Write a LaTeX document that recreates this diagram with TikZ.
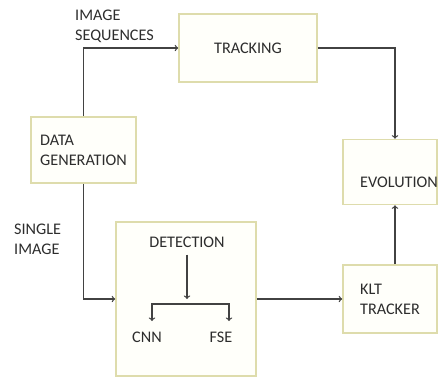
\documentclass[tikz,border=0pt]{standalone}
\usepackage{fontspec}
\setmainfont{Carlito}
\usetikzlibrary{positioning,calc,arrows}

\definecolor{boxline}{RGB}{222,220,172}
\definecolor{boxfill}{RGB}{255,255,250}
\definecolor{ink}{RGB}{45,45,45}

\begin{document}
\begin{tikzpicture}[x=1pt, y=-1pt,
	every node/.style={font=\fontsize{16.2}{20}\selectfont},
	box/.style={draw=boxline, fill=boxfill, line width=1.6pt, inner sep=0pt, align=left, text=ink},
	txt/.style={text=ink, align=left, inner sep=0pt},
	link/.style={->, line width=1.3pt, draw=ink!90}]

	\useasboundingbox (0,0) rectangle (439,378);

	\def\xGen{83.5}
	\def\xRight{390}
	\def\yRow{299}

	% data generation
	\node (gen) [box, minimum width=105pt, minimum height=66pt]
		at (\xGen, 150) {DATA\\GENERATION};

	% tracking
	\node (track) [box, minimum width=138pt, minimum height=68pt]
		at (248, 48) {TRACKING};

	% evolution
	\node (evol) [box, minimum width=94pt, minimum height=65pt]
		at (\xRight, 172) {};
	\node (evoltxt) [txt] at (399, 182) {EVOLUTION};

	% klt tracker
	\node (klt) [box, minimum width=94pt, minimum height=68pt]
		at (\xRight, \yRow) {KLT\\TRACKER};

	% detection
	\node (det) [box, minimum width=140pt, minimum height=154pt]
		at (186, \yRow) {};
	\node (dettxt) [txt] at (187, 242) {DETECTION};
	\node (cnn) [txt] at (147, 337) {CNN};
	\node (fse) [txt] at (221, 337) {FSE};

	% labels
	\node (seq) [txt, anchor=west] at (75, 26) {IMAGE\\SEQUENCES};
	\node (single) [txt, anchor=west] at (14, 239) {SINGLE\\IMAGE};

	\draw [link] (gen.north) |- (track.west);
	\draw [link] (gen.south) |- (det.west);
	\draw [link] (track.east) -| ([xshift=5pt]evol.north);
	\draw [link] ([xshift=5pt]klt.north) -- ([xshift=5pt]evol.south);
	\draw [link] (det.east) -- (klt.west);

	% detection -> cnn / fse
	\coordinate (split) at (187, 304);
	\coordinate (cnnin) at (152, 321);
	\coordinate (fsein) at (229, 321);
	\draw [link, shorten <=7pt, shorten >=5pt] (dettxt.south) -- (split);
	\draw [link] (split) -| (cnnin);
	\draw [link] (split) -| (fsein);

\end{tikzpicture}
\end{document}
